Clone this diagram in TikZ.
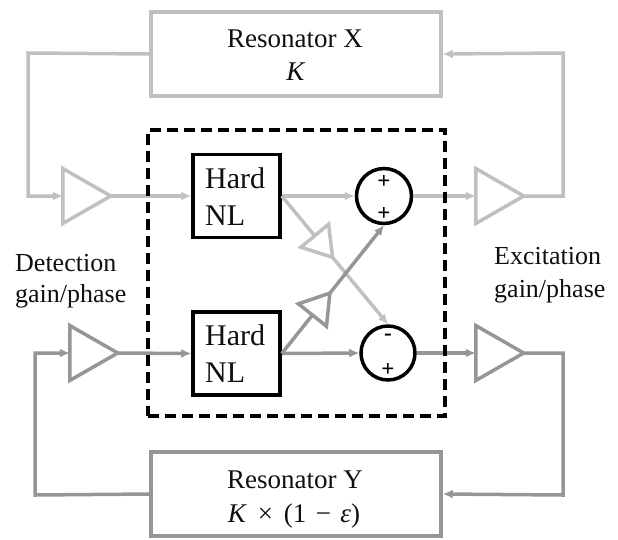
\documentclass[tikz,border=0pt]{standalone}
\usepackage{fontspec}
\setmainfont{Liberation Serif}
\usetikzlibrary{arrows.meta,calc}
\definecolor{lgray}{RGB}{192,192,192}
\definecolor{dgray}{RGB}{150,150,150}
\definecolor{ink}{RGB}{15,15,15}
\begin{document}
\begin{tikzpicture}[x=1pt,y=-1pt,
  wire/.style={line width=3.5pt},
  arr/.style={-{Latex[length=10pt,width=9pt]}},
  ampbox/.style={inner sep=0pt, outer sep=0pt, minimum width=48pt, minimum height=55pt},
  smallbox/.style={inner sep=0pt, outer sep=0pt, minimum width=28pt, minimum height=36pt},
  ampline/.style={line width=3.5pt, line join=miter, fill=white},
  resbox/.style={draw, line width=3.5pt, inner sep=0pt, minimum width=290pt, minimum height=84pt},
  nlbox/.style={draw=black, line width=3.5pt, inner sep=0pt, minimum width=87pt, minimum height=83pt},
  sumnode/.style={circle, draw=black, line width=3.5pt, fill=white, inner sep=0pt, minimum size=55pt},
  txt/.style={text=ink, inner sep=0pt, font=\fontsize{27}{33}\selectfont},
  side/.style={text=ink, inner sep=0pt, anchor=base west, font=\fontsize{26}{31}\selectfont},
  nltxt/.style={text=ink, inner sep=0pt, anchor=base west, font=\fontsize{30}{36}\selectfont},
  sgn/.style={text=black, inner sep=0pt, font=\fontsize{23}{26}\selectfont\bfseries}
]
\useasboundingbox (0,0) rectangle (618,539);

% resonators
\node[resbox, draw=lgray] (resX) at (296,54) {};
\node[txt, anchor=base] (resXa) at (295,47) {Resonator X};
\node[txt, anchor=base] (resXb) at (296,80) {\textit{K}};
\node[resbox, draw=dgray] (resY) at (296,494) {};
\node[txt, anchor=base] (resYa) at (295,488) {Resonator Y};
\node[txt, anchor=base] (resYb) at (294,522) {\textit{K}\hspace{0.4em}×\hspace{0.4em}(1\hspace{0.35em}−\hspace{0.35em}\textit{ε})};

% amplifiers (frame nodes + triangles)
\node[ampbox] (ampTL) at (86.75,196) {};
\node[ampbox] (ampTR) at (499.75,196) {};
\node[ampbox] (ampBL) at (93.75,353) {};
\node[ampbox] (ampBR) at (499.75,353) {};
\draw[ampline, draw=lgray] (ampTL.north west) -- (ampTL.east) -- (ampTL.south west) -- cycle;
\draw[ampline, draw=lgray] (ampTR.north west) -- (ampTR.east) -- (ampTR.south west) -- cycle;
\draw[ampline, draw=dgray] (ampBL.north west) -- (ampBL.east) -- (ampBL.south west) -- cycle;
\draw[ampline, draw=dgray] (ampBR.north west) -- (ampBR.east) -- (ampBR.south west) -- cycle;

% hard nonlinearities
\node[nlbox] (NL1) at (236.5,196) {};
\node[nltxt] (NL1a) at (205,188) {Hard};
\node[nltxt] (NL1b) at (205,225) {NL};
\node[nlbox] (NL2) at (236.5,353.5) {};
\node[nltxt] (NL2a) at (205,345) {Hard};
\node[nltxt] (NL2b) at (205,382) {NL};

% summing junctions
\node[sumnode] (sum1) at (384,196) {};
\node[sgn] (sum1a) at (384,182) {+};
\node[sgn] (sum1b) at (384,214) {+};
\node[sumnode, minimum size=54pt] (diff) at (388,353) {};
\node[sgn] (diffa) at (388,337) {-};
\node[sgn] (diffb) at (388,370) {+};

% cross-coupling amplifiers
\node[smallbox, anchor=west, rotate=-50.4] (ampL) at ($(NL1.east)!0.31!(diff.north)$) {};
\node[smallbox, anchor=west, rotate=51.4] (ampD) at ($(NL2.east)!0.30!(sum1.south)$) {};
\draw[ampline, draw=lgray] (ampL.north west) -- (ampL.east) -- (ampL.south west) -- cycle;
\draw[ampline, draw=dgray] (ampD.north west) -- (ampD.east) -- (ampD.south west) -- cycle;

% corner points
\coordinate (cTR) at (563,53);
\coordinate (cTL) at (28,53);
\coordinate (cBR) at (563,495);
\coordinate (cBL) at (35,495);

% top loop
\draw[wire, lgray, arr] (ampTL.east) -- (NL1.west);
\draw[wire, lgray, arr] (NL1.east) -- (sum1.west);
\draw[wire, lgray] (NL1.east) -- (ampL.west);
\draw[wire, lgray, arr] (ampL.east) -- (diff.north);
\draw[wire, lgray, arr] (sum1.east) -- (ampTR.west);
\draw[wire, lgray, arr] (ampTR.east) -| (cTR) -- (resX.east);
\draw[wire, lgray, arr] (resX.west) -- (cTL) |- (ampTL.west);

% bottom loop
\draw[wire, dgray, arr] (ampBL.east) -- (NL2.west);
\draw[wire, dgray, arr] (NL2.east) -- (diff.west);
\draw[wire, dgray] (NL2.east) -- (ampD.west);
\draw[wire, dgray, arr] (ampD.east) -- (sum1.south);
\draw[wire, dgray, arr] (diff.east) -- (ampBR.west);
\draw[wire, dgray, arr] (ampBR.east) -| (cBR) -- (resY.east);
\draw[wire, dgray, arr] (resY.west) -- (cBL) |- (ampBL.west);

% dashed enclosure
\node[draw=black, line width=3.5pt, dash pattern=on 11pt off 6pt, inner sep=0pt,
  minimum width=297pt, minimum height=286pt] (core) at (296.5,273) {};

% side labels
\node[side] (det1) at (15,271) {Detection};
\node[side] (det2) at (15,302) {gain/phase};
\node[side] (exc1) at (494,264) {Excitation};
\node[side] (exc2) at (494,297) {gain/phase};
\end{tikzpicture}
\end{document}
